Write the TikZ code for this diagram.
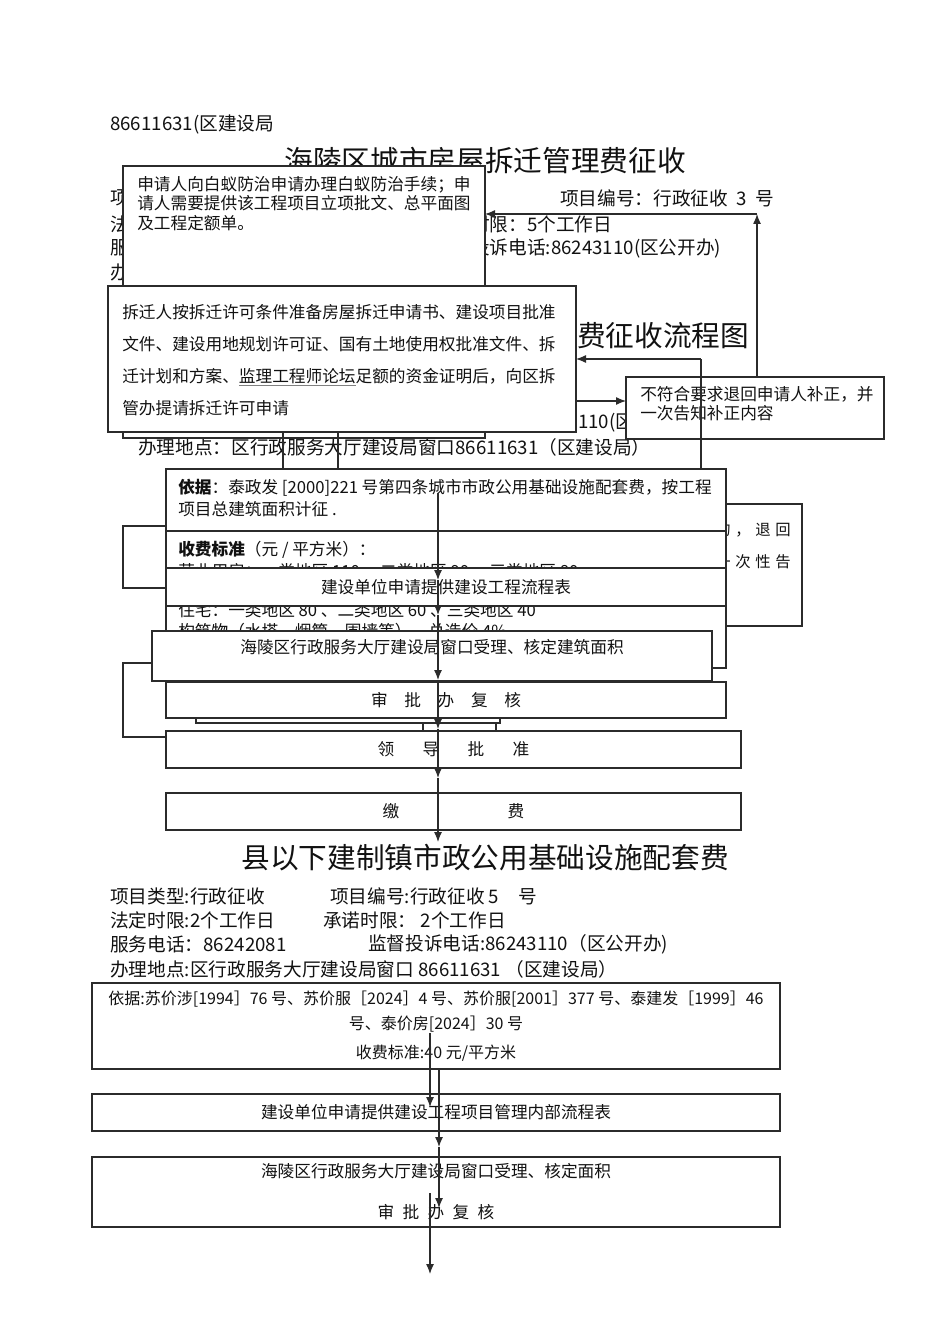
\documentclass[tikz,border=0pt]{standalone}
\usepackage{fontspec}
\setmainfont{Noto Sans CJK SC}
\usetikzlibrary{arrows.meta}
\definecolor{ink}{HTML}{111111}
\definecolor{rule}{HTML}{2B2B2B}
\definecolor{uline}{HTML}{808080}
\newcommand{\fsz}[2]{\fontsize{#1}{#2}\selectfont}
\newcommand{\gap}{\hspace{3.5pt}}

\begin{document}
\begin{tikzpicture}[x=0.75pt,y=-0.75pt,text=ink,>={Latex[length=7.5pt,width=6pt]},
  box/.style={draw=rule,fill=white,line width=0.9pt,anchor=north west,inner sep=0pt,outer sep=0pt},
  sz/.style 2 args={minimum width=#1*0.75pt,minimum height=#2*0.75pt},
  row/.style={font=\fsz{14}{17},inner sep=0pt,anchor=west},
  small/.style={font=\fsz{12.5}{15},inner sep=0pt},
  title/.style={font=\fsz{21.5}{26},inner sep=0pt},
  link/.style={draw=rule,line width=0.9pt}]
  \useasboundingbox (0,0) rectangle (950,1344);

  % header of the first sheet
  \node[row] (phone) at (110,124) {86611631(区建设局};
  \node[title] (titleA) at (485,161) {海陵区城市房屋拆迁管理费征收};
  \node[row] (rowA1) at (110,198) {项};
  \node[row] (code) at (560,198) {项目编号：行政征收\ \ 3\ \ 号};
  \node[row] (rowA2) at (110,224) {法};
  \node[row] (limit) at (471,224) {时限：5个工作日};
  \node[row] (rowA3) at (110,248) {服};
  \node[row] (hotline) at (471,248) {投诉电话:86243110(区公开办)};
  \node[row] (rowA4) at (110,272) {办};
  \node[title,anchor=west] (titleB) at (577,336) {费征收流程图};
  \node[row] (rowB3) at (578,423) {110(区};
  \node[row] (place) at (138,447) {办理地点：区行政服务大厅建设局窗口86611631（区建设局）};

  % boxes of the first sheet
  \node[box,sz={362}{272}] (termite) at (123,166) {};
  \node[small,anchor=north west,align=left,font=\fsz{12.5}{14.6}] (termiteT) at (137,176)
    {申请人向白蚁防治申请办理白蚁防治手续；申\\请人需要提供该工程项目立项批文、总平面图\\及工程定额单。};
  \node[box,sz={468}{146}] (permit) at (108,286) {};
  \node[small,anchor=north west,align=left,font=\fsz{12.5}{24}] (permitT) at (122,304)
    {拆迁人按拆迁许可条件准备房屋拆迁申请书、建设项目批准\\
     文件、建设用地规划许可证、国有土地使用权批准文件、拆\\
     迁计划和方案、{\color{uline}\underline{\color{ink}监理工程师论坛}}足额的资金证明后，向区拆\\
     管办提请拆迁许可申请};
  \node[box,sz={258}{62}] (reject) at (626,377) {};
  \node[small,anchor=north west,align=left,font=\fsz{12.5}{14.25}] (rejectT) at (640,386)
    {不符合要求退回申请人补正，并\\一次告知补正内容};

  \coordinate (upT) at (757,214);
  \coordinate (backT) at (701,359);
  \coordinate (fwd) at (600,401);
  \draw[link,->] (reject.north -| upT) -- (upT);
  \draw[link,->] (upT) -- (upT -| termite.east);
  \draw[link,->] (fwd -| permit.east) -- (fwd -| reject.west);

  % second block
  \node[box,sz={242}{122}] (refund) at (560,504) {};
  \node[small,anchor=east,font=\fsz{11.5}{13}] (refundA) at (791,530) {的\gap，\gap 退\gap 回};
  \node[small,anchor=east,font=\fsz{11.5}{13}] (refundB) at (791,562) {一\gap 次\gap 性\gap 告};
  \node[box,sz={300}{62}] (sideA) at (123,526) {};
  \node[box,sz={560}{62}] (basis) at (166,469) {};
  \node[small,anchor=north west,align=left,font=\fsz{12.5}{16.5}] (basisT) at (178,479)
    {\textbf{依据}：泰政发 [2000]221 号第四条城市市政公用基础设施配套费，按工程\\项目总建筑面积计征 .};
  \node[box,sz={560}{137}] (rate) at (166,531) {};
  \node[small,anchor=west] (rateA) at (178,550) {\textbf{收费标准}（元 / 平方米）：};
  \node[small,anchor=west] (rateB) at (178,571) {营业用房：一类地区 110 、二类地区 90 、三类地区 80};
  \node[small,anchor=west] (rateC) at (178,610) {住宅：一类地区 80 、二类地区 60 、三类地区 40};
  \node[small,anchor=west] (rateD) at (178,631) {构筑物（水塔、烟筒、围墙等），总造价 4\%};
  \coordinate (dropA) at (283,432);
  \coordinate (dropB) at (338,432);
  \draw[link] (backT |- basis.north) -- (backT);
  \draw[link,->] (backT) -- (backT -| permit.east);
  \draw[link] (dropA) -- (dropA |- basis.north);
  \draw[link] (dropB |- permit.south) -- (dropB |- basis.north);

  \node[box,sz={560}{38},small] (submit) at (166,568) {建设单位申请提供建设工程流程表};
  \node[box,sz={300}{74}] (sideB) at (123,663) {};
  \node[box,sz={560}{50}] (accept) at (152,631) {};
  \node[small] (acceptT) at (432,647) {海陵区行政服务大厅建设局窗口受理、核定建筑面积};
  \node[box,sz={304}{33}] (hidden) at (196,690) {};
  \draw[link] (496,723) -- (496,731);
  \node[box,sz={560}{36},small] (review) at (166,682) {审\quad 批\quad 办\quad 复\quad 核};
  \node[box,sz={575}{37},small] (approve) at (166,731) {领\hspace{1.7em}导\hspace{1.7em}批\hspace{1.7em}准};
  \node[box,sz={575}{37},small] (pay) at (166,793) {缴\hspace{6.5em}费};

  \foreach \a/\b in {493/580,580/615,615/680,680/729,729/778,778/842}
    \draw[link,->] (438,\a) -- (438,\b);

  % second sheet
  \node[title] (titleC) at (485,858) {县以下建制镇市政公用基础设施配套费};
  \node[row] (typeC) at (110,896) {项目类型:行政征收};
  \node[row] (codeC) at (330,896) {项目编号:行政征收\ 5\quad 号};
  \node[row] (limitC) at (110,920) {法定时限:2个工作日};
  \node[row] (promiseC) at (323,920) {承诺时限：\ 2个工作日};
  \node[row] (phoneC) at (110,944) {服务电话：86242081};
  \node[row] (hotlineC) at (368,944) {监督投诉电话:86243110（区公开办)};
  \node[row] (placeC) at (110,969) {办理地点:区行政服务大厅建设局窗口 86611631\ （区建设局）};

  \node[box,sz={688}{86},align=center,font=\fsz{12}{18.75}] (basisC) at (92,983)
    {依据:苏价涉[1994］76 号、苏价服［2024］4 号、苏价服[2001］377 号、泰建发［1999］46\\
     号、泰价房[2024］30 号\\[3pt]收费标准:40 元/平方米};
  \node[box,sz={688}{37},small] (submitC) at (92,1094) {建设单位申请提供建设工程项目管理内部流程表};
  \node[box,sz={688}{70},align=center,font=\fsz{12.5}{30.75}] (acceptC) at (92,1157)
    {海陵区行政服务大厅建设局窗口受理、核定面积\\审\hspace{.5em}批\hspace{.5em}办\hspace{.5em}复\hspace{.5em}核};

  \coordinate (dropC) at (439,1147);
  \draw[link,->] (430,1033) -- (430,1107);
  \draw[link,->] (dropC |- basisC.south) -- (dropC);
  \draw[link,->] (dropC) -- (439,1208);
  \draw[link,->] (430,1193) -- (430,1274);
\end{tikzpicture}
\end{document}
